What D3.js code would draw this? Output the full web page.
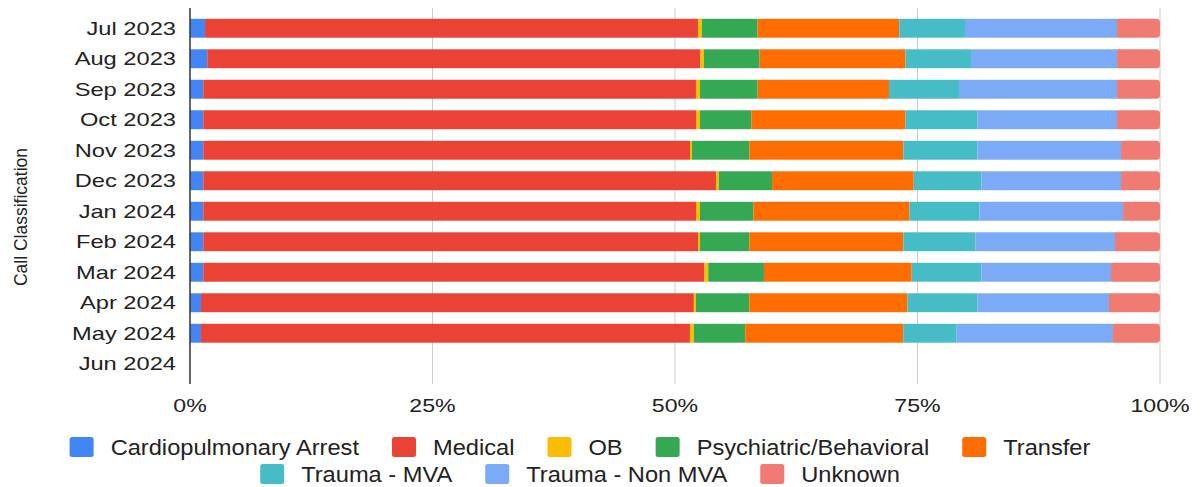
<!DOCTYPE html>
<html>
<head>
<meta charset="utf-8">
<script src="https://cdn.jsdelivr.net/npm/d3@7"></script>
<style>
  body { margin: 0; background: #fff; }
  text { font-family: "Liberation Sans", Arial, sans-serif; fill: #222; }
</style>
</head>
<body>
<script>
// chart values (percent of calls per month)
const months = ["Jul 2023", "Aug 2023", "Sep 2023", "Oct 2023", "Nov 2023", "Dec 2023",
                "Jan 2024", "Feb 2024", "Mar 2024", "Apr 2024", "May 2024", "Jun 2024"];
const categories = ["Cardiopulmonary Arrest", "Medical", "OB", "Psychiatric/Behavioral",
                    "Transfer", "Trauma - MVA", "Trauma - Non MVA", "Unknown"];
const colors = ["#4285F4", "#EA4335", "#FBBC04", "#34A853", "#FF6D01", "#46BDC6", "#7BAAF7", "#F07B72"];

const cardiac   = [1.55, 1.78, 1.37, 1.37, 1.37, 1.37, 1.37, 1.37, 1.37, 1.13, 1.13, 0];
const medical   = [50.8, 50.8, 50.79, 50.79, 50.18, 52.86, 50.79, 51.0, 51.65, 50.82, 50.41, 0];
const ob        = [0.41, 0.38, 0.41, 0.41, 0.21, 0.28, 0.41, 0.21, 0.41, 0.21, 0.41, 0];
const psych     = [5.74, 5.74, 5.95, 5.29, 5.91, 5.5, 5.5, 5.08, 5.74, 5.5, 5.29, 0];
const transfer  = [14.6, 15.03, 13.54, 15.9, 15.88, 14.61, 16.1, 15.88, 15.23, 16.31, 16.29, 0];
const traumaMva = [6.77, 6.75, 7.22, 7.4, 7.63, 6.97, 7.2, 7.42, 7.18, 7.2, 5.51, 0];
const traumaNon = [15.67, 15.05, 16.29, 14.4, 14.81, 14.4, 14.81, 14.4, 13.37, 13.58, 16.11, 0];
const unknown   = [4.43, 4.43, 4.43, 4.43, 4.02, 4.02, 3.81, 4.64, 5.05, 5.26, 4.85, 0];
const tickValues = [0, 0.25, 0.5, 0.75, 1];

const series = [cardiac, medical, ob, psych, transfer, traumaMva, traumaNon, unknown];

let width = 1204, height = 487;
let plotLeft = 190, plotRight = 1160, plotTop = 13, plotBottom = 379;

// rows for d3.stack
let rows = months.map((m, i) => {
  let r = { month: m };
  categories.forEach((c, j) => { r[c] = series[j][i]; });
  return r;
});

let stacked = d3.stack().keys(categories).offset(d3.stackOffsetExpand)(rows);

let x = d3.scaleLinear().domain([0, 1]).range([plotLeft, plotRight]);
let y = d3.scaleBand().domain(months).range([plotTop, plotBottom]).paddingInner(0.38).paddingOuter(0.19);
let color = d3.scaleOrdinal().domain(categories).range(colors);

const svg = d3.select("body").append("svg")
  .attr("width", width)
  .attr("height", height);

// gridlines
svg.append("g")
  .selectAll("line")
  .data(tickValues.slice(1))
  .enter().append("line")
  .attr("x1", d => x(d)).attr("x2", d => x(d))
  .attr("y1", 8).attr("y2", 384)
  .attr("stroke", "#cccccc")
  .attr("stroke-width", 1);

// bars
let layers = svg.append("g")
  .selectAll("g")
  .data(stacked)
  .enter().append("g")
  .attr("fill", d => color(d.key));

layers.each(function (layer, li) {
  let g = d3.select(this);
  let pts = layer.map((d, i) => ({ x0: d[0], x1: d[1], m: months[i] })).filter(d => d.x1 - d.x0 > 0);
  if (li < stacked.length - 1) {
    g.selectAll("rect").data(pts).enter().append("rect")
      .attr("x", d => x(d.x0))
      .attr("y", d => y(d.m))
      .attr("width", d => x(d.x1) - x(d.x0))
      .attr("height", y.bandwidth());
  } else {
    // last segment has rounded right end
    g.selectAll("path").data(pts).enter().append("path")
      .attr("d", d => {
        let a = x(d.x0), b = x(d.x1), t = y(d.m), h = y.bandwidth(), r = 3.5;
        return `M${a},${t}H${b - r}Q${b},${t} ${b},${t + r}V${t + h - r}Q${b},${t + h} ${b - r},${t + h}H${a}Z`;
      });
  }
});

// zero axis line
svg.append("line")
  .attr("x1", x(0)).attr("x2", x(0))
  .attr("y1", 8).attr("y2", 384)
  .attr("stroke", "#333")
  .attr("stroke-width", 1.5);

// y labels (stretched a little, as in the picture)
svg.append("g")
  .selectAll("text")
  .data(months)
  .enter().append("text")
  .attr("transform", d => `translate(176,${y(d) + y.bandwidth() / 2 + 6.6}) scale(1.28,1)`)
  .attr("text-anchor", "end")
  .style("font-size", "18.5px")
  .text(d => d);

// x tick labels
svg.append("g")
  .selectAll("text")
  .data(tickValues)
  .enter().append("text")
  .attr("transform", d => `translate(${x(d)},411.5) scale(1.25,1)`)
  .attr("text-anchor", "middle")
  .style("font-size", "18.5px")
  .text(d => d3.format(".0%")(d));

// axis title
svg.append("text")
  .attr("transform", "translate(26.5,217) rotate(-90)")
  .attr("text-anchor", "middle")
  .style("font-size", "17.5px")
  .text("Call Classification");

// legend
let legendRows = [categories.slice(0, 5), categories.slice(5)];
let rowY = [447, 474];
let legendCenter = 580, sw = 24, sh = 20, gapText = 17, gapItem = 33, sx = 1.1;

legendRows.forEach((items, ri) => {
  let row = svg.append("g").attr("class", "legend-row");
  let item = row.selectAll("g").data(items).enter().append("g");
  item.append("rect")
    .attr("width", sw).attr("height", sh)
    .attr("y", rowY[ri] - sh / 2)
    .attr("rx", 2.5)
    .attr("fill", d => color(d));
  item.append("text")
    .attr("transform", `translate(${sw + gapText},${rowY[ri] + 7.5}) scale(${sx},1)`)
    .style("font-size", "21.5px")
    .text(d => d);
  let pos = 0, offsets = [];
  item.each(function () {
    let w = sw + gapText + sx * d3.select(this).select("text").node().getComputedTextLength();
    offsets.push(pos);
    pos += w + gapItem;
  });
  let total = pos - gapItem;
  item.attr("transform", (d, i) => `translate(${legendCenter - total / 2 + offsets[i]},0)`);
});
</script>
</body>
</html>
